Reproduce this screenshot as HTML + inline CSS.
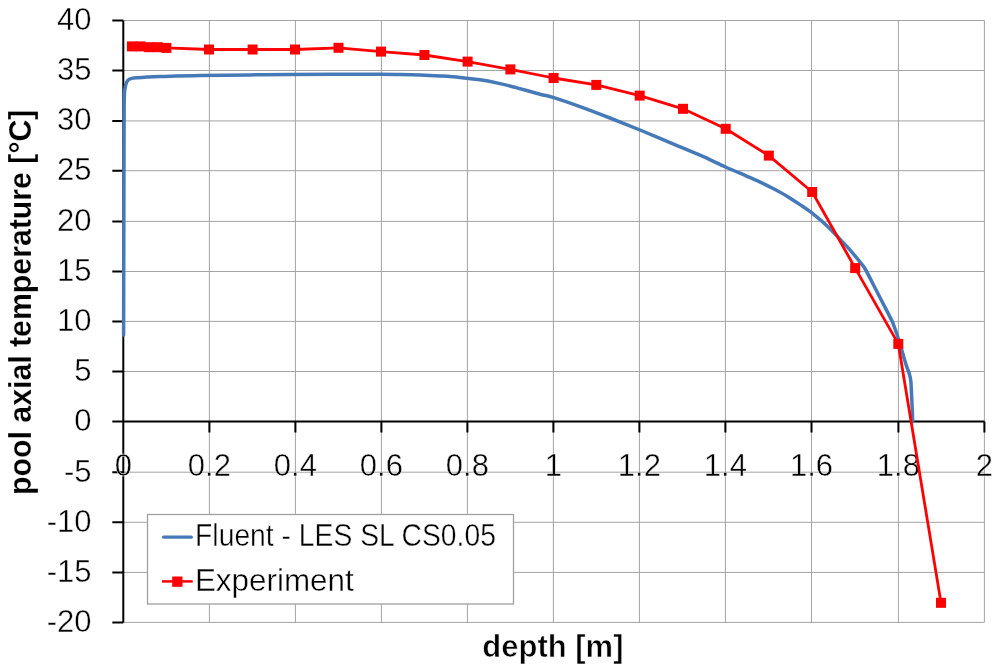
<!DOCTYPE html><html><head><meta charset="utf-8"><style>
html,body{margin:0;padding:0;background:#fff;width:1000px;height:672px;overflow:hidden}
svg{display:block;will-change:transform}
text{font-family:"Liberation Sans",sans-serif;fill:#000;stroke:#fff;stroke-width:0.4px}
</style></head><body>
<svg width="1000" height="672" viewBox="0 0 1000 672">
<rect x="0" y="0" width="1000" height="672" fill="#fff"/>
<path d="M209.40 20.50V622.40M295.40 20.50V622.40M381.40 20.50V622.40M467.40 20.50V622.40M553.40 20.50V622.40M639.40 20.50V622.40M725.40 20.50V622.40M811.50 20.50V622.40M898.40 20.50V622.40M984.40 20.50V622.40M123.30 20.50H984.40M123.30 70.50H984.40M123.30 120.90H984.40M123.30 170.70H984.40M123.30 221.40H984.40M123.30 271.50H984.40M123.30 321.40H984.40M123.30 371.50H984.40M123.30 421.60H984.40M123.30 472.20H984.40M123.30 522.30H984.40M123.30 572.40H984.40M123.30 622.40H984.40" stroke="#a4a4a4" stroke-width="1" fill="none"/>
<path d="M123.30 20.50V622.40M112.30 421.60H984.40M112.30 20.50H123.30M112.30 70.50H123.30M112.30 120.90H123.30M112.30 170.70H123.30M112.30 221.40H123.30M112.30 271.50H123.30M112.30 321.40H123.30M112.30 371.50H123.30M112.30 421.60H123.30M112.30 472.20H123.30M112.30 522.30H123.30M112.30 572.40H123.30M112.30 622.40H123.30M123.30 421.60V432.60M209.40 421.60V432.60M295.40 421.60V432.60M381.40 421.60V432.60M467.40 421.60V432.60M553.40 421.60V432.60M639.40 421.60V432.60M725.40 421.60V432.60M811.50 421.60V432.60M898.40 421.60V432.60M984.40 421.60V432.60" stroke="#000" stroke-width="2" fill="none" stroke-linecap="butt"/>
<text x="91.5" y="30.00" font-size="31" text-anchor="end">40</text>
<text x="91.5" y="80.00" font-size="31" text-anchor="end">35</text>
<text x="91.5" y="130.40" font-size="31" text-anchor="end">30</text>
<text x="91.5" y="180.20" font-size="31" text-anchor="end">25</text>
<text x="91.5" y="230.90" font-size="31" text-anchor="end">20</text>
<text x="91.5" y="281.00" font-size="31" text-anchor="end">15</text>
<text x="91.5" y="330.90" font-size="31" text-anchor="end">10</text>
<text x="91.5" y="381.00" font-size="31" text-anchor="end">5</text>
<text x="91.5" y="431.10" font-size="31" text-anchor="end">0</text>
<text x="91.5" y="481.70" font-size="31" text-anchor="end">-5</text>
<text x="91.5" y="531.80" font-size="31" text-anchor="end">-10</text>
<text x="91.5" y="581.90" font-size="31" text-anchor="end">-15</text>
<text x="91.5" y="631.90" font-size="31" text-anchor="end">-20</text>
<text x="123.30" y="476" font-size="31" text-anchor="middle">0</text>
<text x="209.40" y="476" font-size="31" text-anchor="middle">0.2</text>
<text x="295.40" y="476" font-size="31" text-anchor="middle">0.4</text>
<text x="381.40" y="476" font-size="31" text-anchor="middle">0.6</text>
<text x="467.40" y="476" font-size="31" text-anchor="middle">0.8</text>
<text x="553.40" y="476" font-size="31" text-anchor="middle">1</text>
<text x="639.40" y="476" font-size="31" text-anchor="middle">1.2</text>
<text x="725.40" y="476" font-size="31" text-anchor="middle">1.4</text>
<text x="811.50" y="476" font-size="31" text-anchor="middle">1.6</text>
<text x="898.40" y="476" font-size="31" text-anchor="middle">1.8</text>
<text x="984.40" y="476" font-size="31" text-anchor="middle">2</text>
<path d="M123.60 335.00 C123.67 304.17 123.89 189.17 124.00 150.00 C124.11 110.83 124.07 110.35 124.25 100.00 C124.43 89.65 124.72 90.82 125.10 87.90 C125.47 84.98 125.82 83.95 126.50 82.50 C127.18 81.05 127.63 79.98 129.20 79.20 C130.77 78.42 132.93 78.15 135.90 77.80 C138.87 77.45 142.98 77.30 147.00 77.10 C151.02 76.90 151.17 76.87 160.00 76.60 C168.83 76.33 185.00 75.78 200.00 75.50 C215.00 75.22 235.00 75.07 250.00 74.90 C265.00 74.73 268.33 74.60 290.00 74.50 C311.67 74.40 361.67 74.30 380.00 74.30 C398.33 74.30 393.33 74.38 400.00 74.50 C406.67 74.62 413.33 74.75 420.00 75.00 C426.67 75.25 433.33 75.60 440.00 76.00 C446.67 76.40 453.33 76.77 460.00 77.40 C466.67 78.03 473.33 78.77 480.00 79.80 C486.67 80.83 494.00 82.30 500.00 83.60 C506.00 84.90 509.33 85.83 516.00 87.60 C522.67 89.37 533.70 92.53 540.00 94.20 C546.30 95.87 547.13 95.53 553.80 97.60 C560.47 99.67 570.63 103.20 580.00 106.60 C589.37 110.00 600.00 114.10 610.00 118.00 C620.00 121.90 630.00 125.90 640.00 130.00 C650.00 134.10 660.00 138.40 670.00 142.60 C680.00 146.80 690.73 151.13 700.00 155.20 C709.27 159.27 717.93 163.57 725.60 167.00 C733.27 170.43 740.23 173.28 746.00 175.80 C751.77 178.32 755.60 179.93 760.20 182.10 C764.80 184.27 769.13 186.45 773.60 188.80 C778.07 191.15 782.53 193.52 787.00 196.20 C791.47 198.88 795.95 201.88 800.40 204.90 C804.85 207.92 809.25 210.80 813.70 214.30 C818.15 217.80 822.80 221.83 827.10 225.90 C831.40 229.97 835.58 234.58 839.50 238.70 C843.42 242.82 847.07 246.57 850.60 250.60 C854.13 254.63 858.22 259.75 860.70 262.90 C863.18 266.05 863.45 265.98 865.50 269.50 C867.55 273.02 870.42 279.00 873.00 284.00 C875.58 289.00 878.00 293.67 881.00 299.50 C884.00 305.33 888.83 314.58 891.00 319.00 C893.17 323.42 892.57 322.10 894.00 326.00 C895.43 329.90 897.67 336.18 899.60 342.40 C901.53 348.62 903.98 358.07 905.60 363.30 C907.22 368.53 908.43 370.80 909.30 373.75 C910.17 376.70 910.45 378.04 910.80 381.00 C911.15 383.96 911.22 388.02 911.40 391.50 C911.58 394.98 911.73 398.27 911.90 401.90 C912.07 405.53 912.27 410.00 912.40 413.30 C912.53 416.60 912.65 420.30 912.70 421.70" stroke="#4679b8" stroke-width="3.5" fill="none" stroke-linejoin="round" stroke-linecap="round"/>
<path d="M131.9 46.4 L140.5 46.4 L149.1 47.2 L157.7 47.2 L166.4 47.9 L209.0 49.5 L252.6 49.5 L295.0 49.5 L338.5 47.8 L381.0 51.6 L424.4 55.0 L467.6 61.6 L510.4 69.4 L553.6 78.0 L596.3 84.9 L639.7 95.6 L683.0 108.8 L725.7 128.8 L768.8 155.6 L812.2 192.0 L855.2 268.1 L898.3 343.9 L941.0 602.8" stroke="#ff0000" stroke-width="2.8" fill="none" stroke-linejoin="round"/>
<rect x="126.9" y="41.4" width="10" height="10" fill="#ff0000"/>
<rect x="135.5" y="41.4" width="10" height="10" fill="#ff0000"/>
<rect x="144.1" y="42.2" width="10" height="10" fill="#ff0000"/>
<rect x="152.7" y="42.2" width="10" height="10" fill="#ff0000"/>
<rect x="161.4" y="42.9" width="10" height="10" fill="#ff0000"/>
<rect x="204.0" y="44.5" width="10" height="10" fill="#ff0000"/>
<rect x="247.6" y="44.5" width="10" height="10" fill="#ff0000"/>
<rect x="290.0" y="44.5" width="10" height="10" fill="#ff0000"/>
<rect x="333.5" y="42.8" width="10" height="10" fill="#ff0000"/>
<rect x="376.0" y="46.6" width="10" height="10" fill="#ff0000"/>
<rect x="419.4" y="50.0" width="10" height="10" fill="#ff0000"/>
<rect x="462.6" y="56.6" width="10" height="10" fill="#ff0000"/>
<rect x="505.4" y="64.4" width="10" height="10" fill="#ff0000"/>
<rect x="548.6" y="73.0" width="10" height="10" fill="#ff0000"/>
<rect x="591.3" y="79.9" width="10" height="10" fill="#ff0000"/>
<rect x="634.7" y="90.6" width="10" height="10" fill="#ff0000"/>
<rect x="678.0" y="103.8" width="10" height="10" fill="#ff0000"/>
<rect x="720.7" y="123.8" width="10" height="10" fill="#ff0000"/>
<rect x="763.8" y="150.6" width="10" height="10" fill="#ff0000"/>
<rect x="807.2" y="187.0" width="10" height="10" fill="#ff0000"/>
<rect x="850.2" y="263.1" width="10" height="10" fill="#ff0000"/>
<rect x="893.3" y="338.9" width="10" height="10" fill="#ff0000"/>
<rect x="936.0" y="597.8" width="10" height="10" fill="#ff0000"/>
<rect x="147.5" y="514.5" width="366" height="89.5" fill="#fff" stroke="#a0a0a0" stroke-width="1.3"/>
<path d="M163.6 537.2H191.3" stroke="#4679b8" stroke-width="3.2" stroke-linecap="round"/>
<path d="M162 581.4H192.7" stroke="#ff0000" stroke-width="2.5"/>
<rect x="172.2" y="576.5" width="10.3" height="10.3" fill="#ff0000"/>
<text x="195.1" y="545.8" font-size="31.5" textLength="300.8" lengthAdjust="spacingAndGlyphs">Fluent - LES SL CS0.05</text>
<text x="194.9" y="591.4" font-size="31.5" textLength="158.8" lengthAdjust="spacingAndGlyphs">Experiment</text>
<text x="482.3" y="657" font-size="31" font-weight="bold" style="stroke-width:0.6px">depth [m]</text>
<text transform="translate(31 494.9) rotate(-90)" x="0" y="0" font-size="31" font-weight="bold" style="stroke-width:0.2px" textLength="385.3" lengthAdjust="spacingAndGlyphs">pool axial temperature [°C]</text>
</svg></body></html>
